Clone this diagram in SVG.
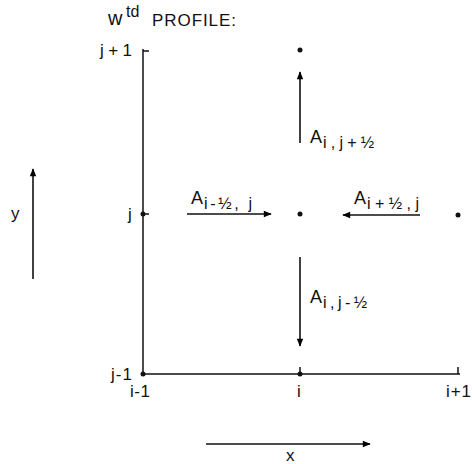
<svg xmlns="http://www.w3.org/2000/svg" width="472" height="464" viewBox="0 0 472 464">
<defs>
<marker id="ah" viewBox="0 0 10 10" refX="9" refY="5" markerWidth="11" markerHeight="8" markerUnits="userSpaceOnUse" orient="auto">
<path d="M0,1 L10,5 L0,9 Z" fill="#000"/>
</marker>
<style>
text{font-family:"Liberation Sans",Arial,sans-serif;fill:#111;}
.t{font-size:17px;}
.a{font-size:18px;}
.s{font-size:16px;}
.ln{stroke:#111;stroke-width:1.5;fill:none;}
.ar{stroke:#111;stroke-width:1.6;fill:none;marker-end:url(#ah);}
.dot{fill:#111;}
</style>
</defs>
<rect width="472" height="464" fill="#fff"/>
<g id="title">
<text x="108" y="25" style="font-size:20px">w</text>
<text x="126" y="17" style="font-size:16px">td</text>
<text x="152" y="26" class="t" textLength="84" lengthAdjust="spacing">PROFILE:</text>
</g>
<g id="axes">
<line class="ln" x1="143" y1="49" x2="143" y2="375"/>
<line class="ln" x1="143" y1="374" x2="460" y2="374"/>
<line class="ln" x1="143" y1="51" x2="149" y2="51"/>
<line class="ln" x1="143" y1="214" x2="149" y2="214"/>
<line class="ln" x1="300" y1="367" x2="300" y2="374"/>
<line class="ln" x1="458" y1="367" x2="458" y2="374"/>
<circle class="dot" cx="143" cy="214" r="2.5"/>
<circle class="dot" cx="143" cy="374" r="2.5"/>
<circle class="dot" cx="300" cy="374" r="2.5"/>
</g>
<g id="labels">
<text x="100" y="56" class="t" textLength="32" lengthAdjust="spacing">j+1</text>
<text x="128" y="220" class="t">j</text>
<text x="111" y="380" class="t" textLength="21" lengthAdjust="spacing">j-1</text>
<text x="130" y="397" class="t" textLength="20" lengthAdjust="spacing">i-1</text>
<text x="297" y="397" class="t">i</text>
<text x="446" y="397" class="t" textLength="25" lengthAdjust="spacing">i+1</text>
</g>
<g id="points">
<circle class="dot" cx="300" cy="50" r="2.5"/>
<circle class="dot" cx="300" cy="214" r="2.5"/>
<circle class="dot" cx="458" cy="215" r="2.5"/>
</g>
<g id="connectors">
<line class="ar" x1="300" y1="143" x2="300" y2="72"/>
<line class="ar" x1="300" y1="257" x2="300" y2="346"/>
<line class="ar" x1="187" y1="214" x2="271" y2="214"/>
<line class="ar" x1="420" y1="215" x2="343" y2="215"/>
<line class="ar" x1="33" y1="279" x2="33" y2="169"/>
<line class="ar" x1="206" y1="444" x2="370" y2="444"/>
</g>
<g id="flux-labels">
<text x="310" y="143" class="a">A</text>
<text x="323" y="148" class="s" textLength="51" lengthAdjust="spacing">i,j+½</text>
<text x="310" y="303" class="a">A</text>
<text x="323" y="308" class="s" textLength="44" lengthAdjust="spacing">i,j-½</text>
<text x="191" y="204" class="a">A</text>
<text x="204" y="209" class="s" textLength="48" lengthAdjust="spacing">i-½, j</text>
<text x="354" y="204" class="a">A</text>
<text x="367" y="209" class="s" textLength="52" lengthAdjust="spacing">i+½,j</text>
</g>
<g id="axis-names">
<text x="11" y="219" class="t">y</text>
<text x="286" y="461" class="t">x</text>
</g>
</svg>
